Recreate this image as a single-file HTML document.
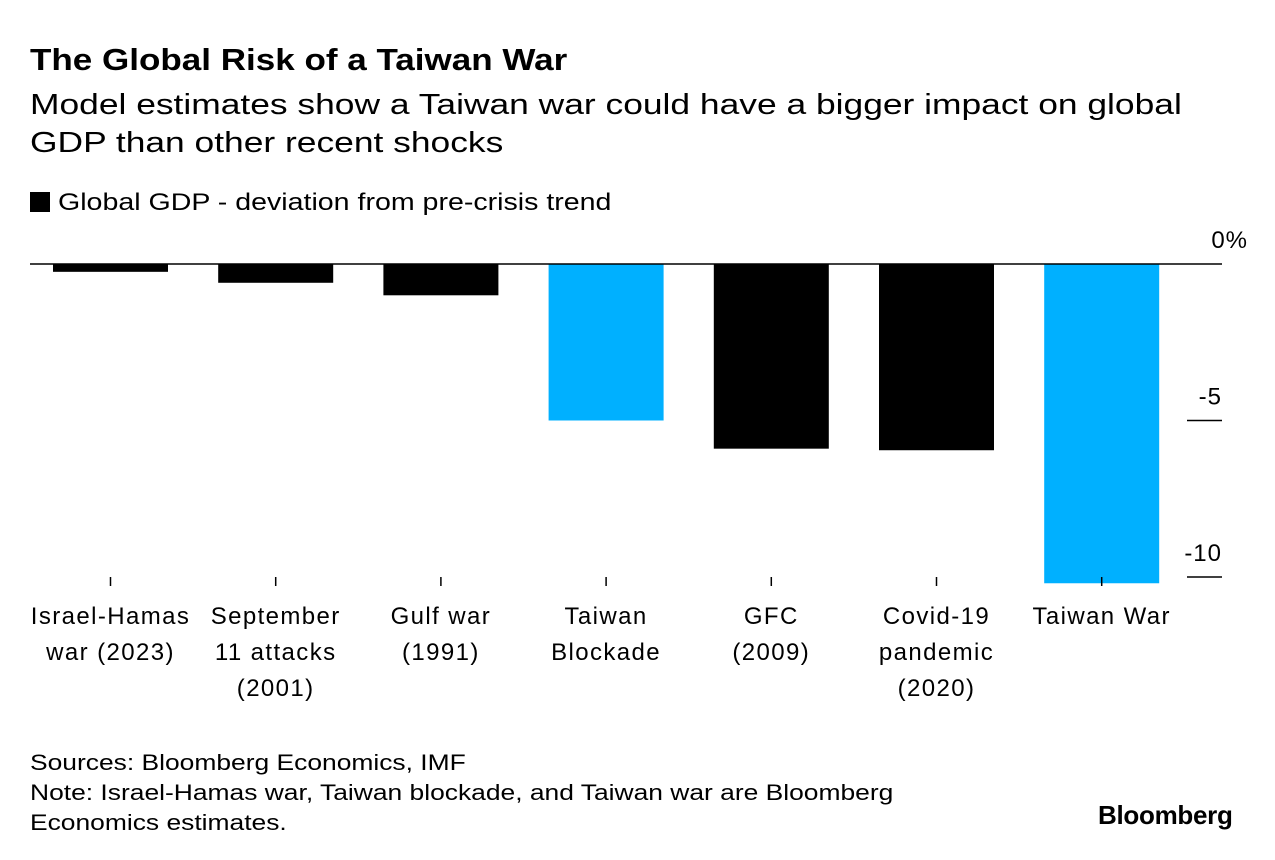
<!DOCTYPE html>
<html><head><meta charset="utf-8"><style>
body{margin:0;background:#fff;font-family:"Liberation Sans",sans-serif;color:#000}
#wrap{position:relative;width:1275px;height:860px;overflow:hidden}
.t{position:absolute;white-space:nowrap;transform-origin:0 0}
</style></head><body><div id="wrap">
<div class="t" style="left:30px;top:42px;font-size:31px;font-weight:bold;transform:scaleX(1.13)">The Global Risk of a Taiwan War</div>
<div class="t" style="left:30px;top:86px;font-size:29px;line-height:38px;transform:scaleX(1.22)">Model estimates show a Taiwan war could have a bigger impact on global<br>GDP than other recent shocks</div>
<div class="t" style="left:30px;top:189px;font-size:24px"><span style="display:inline-block;width:20px;height:20px;background:#000;vertical-align:-2px;margin-right:8px"></span><span style="display:inline-block;transform:scaleX(1.19);transform-origin:0 0">Global GDP - deviation from pre-crisis trend</span></div>
<svg id="svg" width="1275" height="860" style="position:absolute;left:0;top:0"></svg>
<div class="t" style="left:30px;top:748px;font-size:22px;line-height:30px;transform:scaleX(1.2)">Sources: Bloomberg Economics, IMF<br>Note: Israel-Hamas war, Taiwan blockade, and Taiwan war are Bloomberg<br>Economics estimates.</div>
<div class="t" style="left:1098px;top:800px;font-size:26px;font-weight:bold;letter-spacing:-0.3px">Bloomberg</div>
</div>
<script>
const categories=[["Israel-Hamas","war (2023)"],["September","11 attacks","(2001)"],["Gulf war","(1991)"],["Taiwan","Blockade"],["GFC","(2009)"],["Covid-19","pandemic","(2020)"],["Taiwan War"]];
const values=[-0.25,-0.6,-1.0,-5.0,-5.9,-5.95,-10.2];
const highlight=[false,false,false,true,false,false,true];
const tickValues=[0,-5,-10];
const tickLabels=["0%","-5","-10"];
const NS="http://www.w3.org/2000/svg",svg=document.getElementById('svg');
const y=v=>264-v*31.3;
const xC=i=>110.5+i*165.2;
const bw=115;
function mk(t,a){const e=document.createElementNS(NS,t);for(const k in a)e.setAttribute(k,a[k]);svg.appendChild(e);return e;}
values.forEach((v,i)=>{
 const r=mk('rect',{x:xC(i)-bw/2,y:y(0),width:bw,height:y(v)-y(0),fill:highlight[i]?'#00b0ff':'#000'});
 
 
 const tk=mk('line',{x1:xC(i),x2:xC(i),y1:577,y2:586,stroke:'#000','stroke-width':1.5});
 
 
 categories[i].forEach((s,j)=>{
  const t=mk('text',{x:xC(i),y:624+j*36,'text-anchor':'middle','font-size':24,'letter-spacing':1.4,'font-family':'Liberation Sans, sans-serif'});
  t.textContent=s;
  
  
 });
});
tickValues.forEach((v,i)=>{
 const l=mk('line',{x1:v===0?30:1187,x2:1222,y1:y(v),y2:y(v),stroke:'#000','stroke-width':1.5});
 
 
 const t=mk('text',{x:v===0?1248:1222,y:y(v)-16,'text-anchor':'end','font-size':24,'letter-spacing':1,'font-family':'Liberation Sans, sans-serif'});
 t.textContent=tickLabels[i];
 
 
});
</script></body></html>
